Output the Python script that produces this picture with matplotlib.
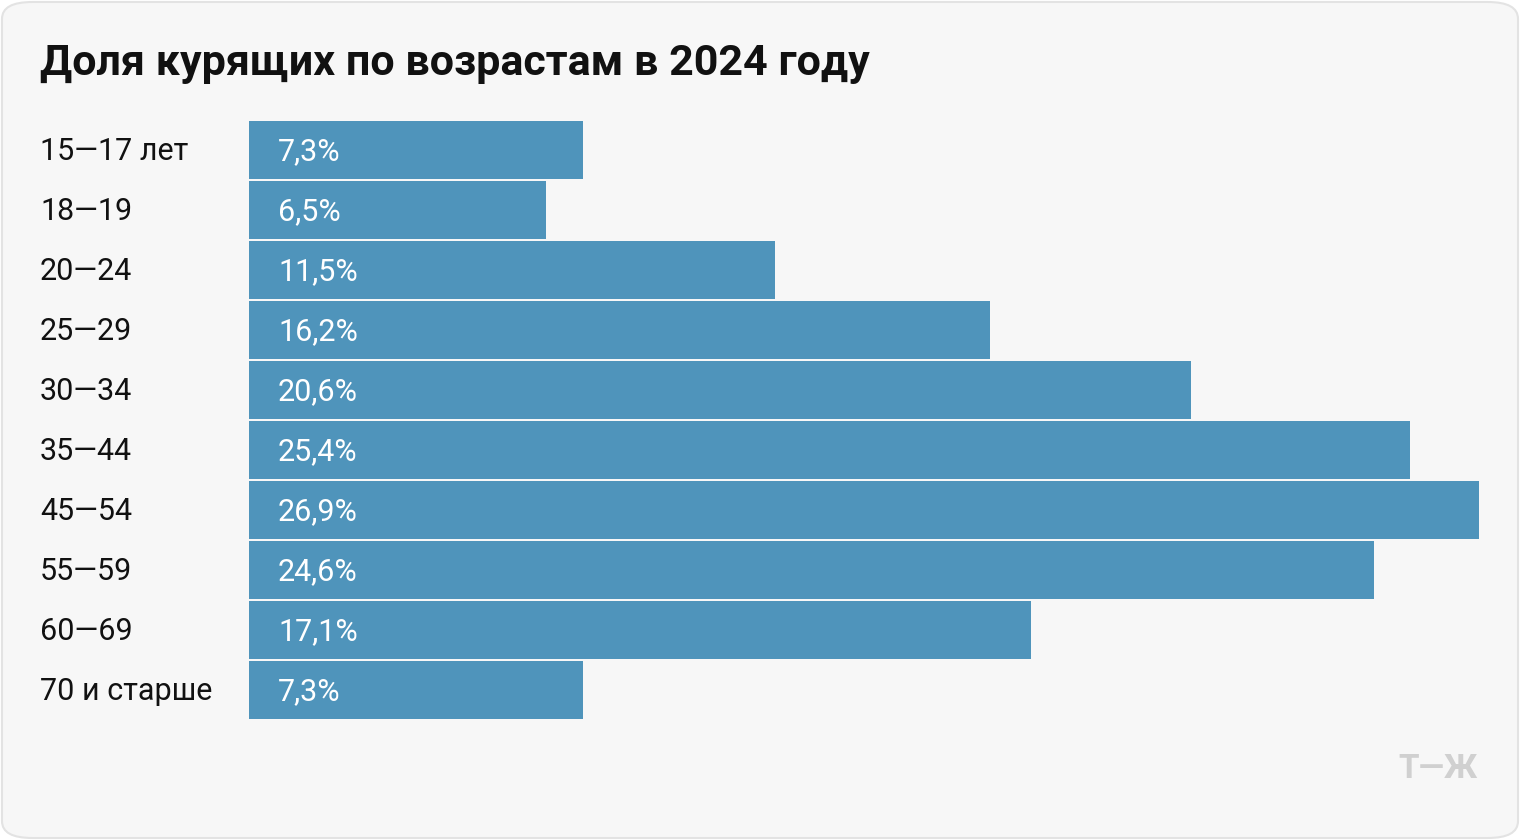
import matplotlib
matplotlib.use("Agg")
import matplotlib.pyplot as plt
from matplotlib.patches import FancyBboxPatch

categories = ["15—17 лет", "18—19", "20—24", "25—29", "30—34", "35—44", "45—54", "55—59", "60—69", "70 и старше"]
values = [7.3, 6.5, 11.5, 16.2, 20.6, 25.4, 26.9, 24.6, 17.1, 7.3]
value_labels = ["7,3%", "6,5%", "11,5%", "16,2%", "20,6%", "25,4%", "26,9%", "24,6%", "17,1%", "7,3%"]
title = "Доля курящих по возрастам в 2024 году"

W, H = 1520, 840
fig = plt.figure(figsize=(W/100, H/100), dpi=100)
fig.patch.set_facecolor("white")
bg = FancyBboxPatch((2/W, 2/H), (W-4)/W, (H-4)/H, boxstyle="round,pad=0,rounding_size=0.02",
                    transform=fig.transFigure, facecolor="#f7f7f7", edgecolor="#e3e3e3", lw=1.5, zorder=-10)
fig.patches.append(bg)

ax = fig.add_axes([249/W, (H-720)/H, (1479-249)/W, 600/H])
ax.set_zorder(5)
ax.set_facecolor("none")
y = list(range(len(values)))
ax.barh(y, values, height=58/60, color="#4f94bb", left=0)
ax.set_xlim(0, 26.9)
ax.set_ylim(len(values)-0.5, -0.5)
ax.axis("off")
for i, (v, lab) in enumerate(zip(values, value_labels)):
    ax.text(29/45.72, i + 0.03, lab, color="white", fontsize=22, va="center", ha="left", family="Roboto")
for i, c in enumerate(categories):
    fig.text(40/W, 1-(152+60*i)/H, c, fontsize=22, va="center", ha="left", family="Roboto", color="#111111")
fig.text(40/W, 1-64/H, title, fontsize=31, fontweight="bold", va="center", ha="left", family="Roboto", color="#111111")
fig.text(1478/W, 1-769/H, "Т—Ж", fontsize=24, fontweight="bold", va="center", ha="right", family="Roboto", color="#d0d0d0")
fig.savefig("out.png", dpi=100)
